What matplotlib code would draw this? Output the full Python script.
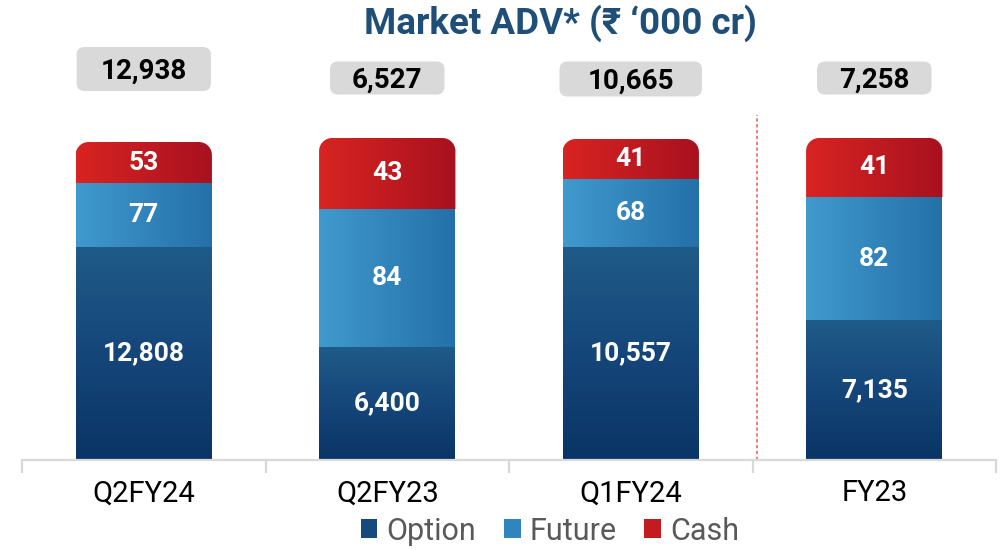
import numpy as np
import matplotlib.pyplot as plt
from matplotlib.colors import LinearSegmentedColormap
from matplotlib.patches import Polygon, FancyBboxPatch, Patch
from matplotlib.transforms import IdentityTransform

plt.rcParams['font.family'] = ['Roboto', 'DejaVu Sans']

# data
categories = ['Q2FY24', 'Q2FY23', 'Q1FY24', 'FY23']
option = [12808, 6400, 10557, 7135]
future = [77, 84, 68, 82]
cash = [53, 43, 41, 41]
totals = [12938, 6527, 10665, 7258]
# drawn segment heights (the original chart is not to scale)
option_h = [213, 113, 213, 140]
future_h = [64, 138, 68, 123]
cash_h = [41, 71, 40, 59]

# gradients
opt_cmap = LinearSegmentedColormap.from_list('opt', ['#0A3466', '#15467A', '#1F5B88'])
fut_cmap = LinearSegmentedColormap.from_list('fut', ['#409ACD', '#2470A9'])
cash_cmap = LinearSegmentedColormap.from_list('cash', ['#D82422', '#A8111F'])

fig = plt.figure(figsize=(10.08, 5.5), dpi=100)
ax = fig.add_axes([22 / 1008, 90 / 550, 974 / 1008, 460 / 550])

x = np.arange(len(categories))
w = 0.56
px_x = 974 / 4  # pixels per x unit


def top_rounded(x0, x1, y0, y1, r):
    rx, ry = r / px_x, r
    t = np.linspace(0, np.pi / 2, 12)
    pts = [(x0, y0), (x1, y0)]
    pts += [(x1 - rx + rx * np.cos(a), y1 - ry + ry * np.sin(a)) for a in t]
    pts += [(x0 + rx - rx * np.cos(a), y1 - ry + ry * np.sin(a)) for a in t[::-1]]
    return pts


def grad_seg(x0, x1, y0, y1, cmap, vertical, rounded=False):
    if vertical:
        g = np.linspace(0, 1, 256).reshape(-1, 1)
    else:
        g = np.linspace(0, 1, 256).reshape(1, -1)
    if rounded:
        pts = top_rounded(x0, x1, y0, y1, 13)
    else:
        pts = [(x0, y0), (x1, y0), (x1, y1), (x0, y1)]
    clip = Polygon(pts, closed=True, transform=ax.transData, fc='none', lw=0)
    ax.add_patch(clip)
    im = ax.imshow(g, cmap=cmap, extent=[x0, x1, y0, y1], origin='lower',
                   aspect='auto', zorder=2, interpolation='bilinear')
    im.set_clip_path(clip)


for i in range(len(categories)):
    x0, x1 = x[i] - w / 2, x[i] + w / 2
    b1 = option_h[i]
    b2 = b1 + future_h[i]
    b3 = b2 + cash_h[i]
    grad_seg(x0, x1, 0, b1, opt_cmap, True)
    grad_seg(x0, x1, b1, b2, fut_cmap, False)
    grad_seg(x0, x1, b2, b3, cash_cmap, False, rounded=True)
    lab = dict(ha='center', va='center', color='white', fontsize=19, weight='bold', zorder=4)
    ax.text(x[i], b1 / 2, f'{option[i]:,}', **lab)
    ax.text(x[i], (b1 + b2) / 2, f'{future[i]:,}', **lab)
    ax.text(x[i], (b2 + b3) / 2, f'{cash[i]:,}', **lab)

ax.set_xlim(-0.5, 3.5)
ax.set_ylim(0, 460)

# separator before the full year
ax.plot([2.52, 2.52], [0, 345], color='#E86A6A', lw=1.2, ls=(0, (2, 1.5)), zorder=1)

# axes styling
for s in ['left', 'right', 'top']:
    ax.spines[s].set_visible(False)
ax.spines['bottom'].set_color('#D9D9D9')
ax.spines['bottom'].set_linewidth(1.6)
ax.set_yticks([])
ax.set_xticks(x)
ax.set_xticklabels(categories, fontsize=21)
ax.tick_params(axis='x', which='major', length=0, pad=14)
ax.set_xticks(np.arange(-0.5, 4, 1), minor=True)
ax.tick_params(axis='x', which='minor', length=9, width=1.6, color='#D9D9D9')

# totals in grey boxes (centre y, box padding and height in pixels)
tot_y = [391, 382, 381, 382]
pad_x = [24, 22, 28, 22]
box_h = [44, 33, 35, 33]
cap = 0.711 * 20 * 100 / 72  # digit height of the label font, px
tot_txt = []
for i in range(len(categories)):
    t = ax.text(x[i], tot_y[i] - cap / 2, f'{totals[i]:,}', ha='center', va='baseline',
                fontsize=20, weight='bold', color='black', zorder=6)
    tot_txt.append(t)

fig.text(560 / 1008, 1 - 23 / 550, 'Market ADV* (₹ ‘000 cr)', ha='center', va='center',
         fontsize=26.5, weight='bold', color='#1F4E79')

handles = [Patch(fc='#164A7C', label='Option'),
           Patch(fc='#3185BE', label='Future'),
           Patch(fc='#C41B20', label='Cash')]
fig.legend(handles=handles, loc='center', bbox_to_anchor=(550 / 1008, 1 - 531 / 550),
           ncol=3, frameon=False, fontsize=22, handlelength=0.55, handleheight=0.55,
           handletextpad=0.3, columnspacing=0.9, labelcolor='#595959', borderpad=0)

fig.canvas.draw()
for i, t in enumerate(tot_txt):
    bb = t.get_window_extent()
    cx, cy = ax.transData.transform((x[i], tot_y[i]))
    bw = bb.width + 2 * pad_x[i]
    box = FancyBboxPatch((cx - bw / 2, cy - box_h[i] / 2), bw, box_h[i],
                         boxstyle='round,pad=0,rounding_size=8', fc='#D9D9D9', ec='none',
                         transform=IdentityTransform(), zorder=5, clip_on=False)
    ax.add_patch(box)

fig.savefig('out.png', dpi=100)
